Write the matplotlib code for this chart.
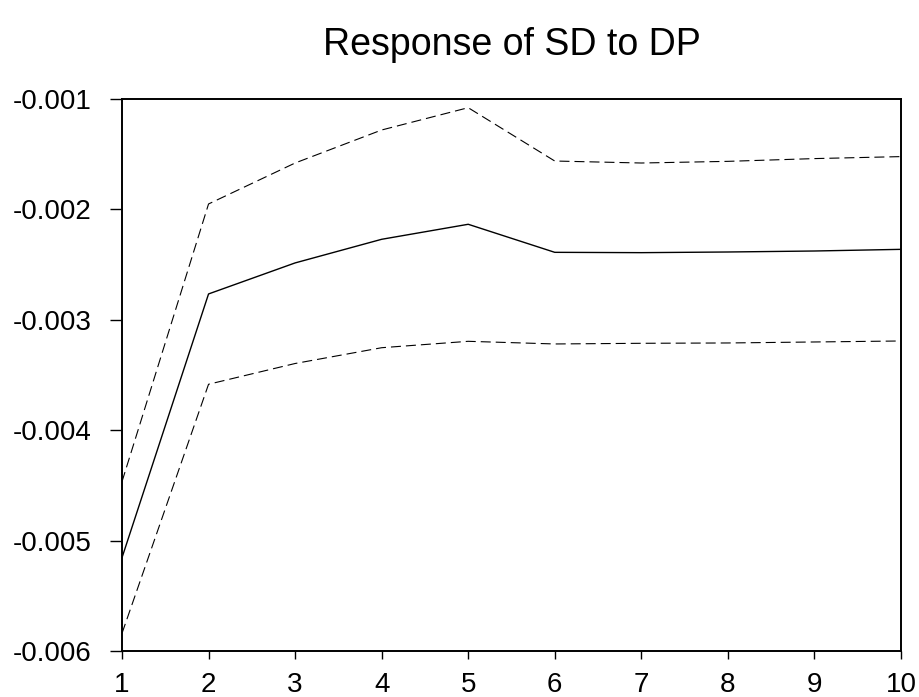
import matplotlib.pyplot as plt

plt.rcParams['font.family'] = ['Liberation Sans', 'DejaVu Sans']

periods = [1, 2, 3, 4, 5, 6, 7, 8, 9, 10]
response = [-0.005155, -0.002766, -0.002485, -0.002271, -0.002135,
            -0.002389, -0.002392, -0.002386, -0.002377, -0.002362]
upper = [-0.004466, -0.001951, -0.001580, -0.001281, -0.001079,
         -0.001562, -0.001580, -0.001565, -0.001540, -0.001522]
lower = [-0.005840, -0.003584, -0.003396, -0.003253, -0.003195,
         -0.003219, -0.003213, -0.003210, -0.003201, -0.003192]
yticks = [-0.006, -0.005, -0.004, -0.003, -0.002, -0.001]
ylabels = ['-0.006', '-0.005', '-0.004', '-0.003', '-0.002', '-0.001']

fig = plt.figure(figsize=(9.2, 6.97), dpi=100)
ax = fig.add_axes([0.1326, 0.066, 0.8467, 0.792])

ax.plot(periods, response, color='black', lw=1.0)
ax.plot(periods, upper, color='black', lw=0.8, dashes=[9, 4.5])
ax.plot(periods, lower, color='black', lw=0.8, dashes=[9, 4.5])

ax.set_xlim(1, 10)
ax.set_ylim(-0.006, -0.001)
ax.set_xticks(periods)
ax.set_yticks(yticks)
ax.set_yticklabels(ylabels)
ax.tick_params(axis='y', direction='out', length=8.6, width=1.0, pad=13, labelsize=20)
ax.tick_params(axis='x', direction='out', length=6, width=1.0, pad=9, labelsize=20)
for s in ax.spines.values():
    s.set_linewidth(1.4)

ax.set_title('Response of SD to DP', fontsize=27, pad=32)

fig.savefig('out.png', dpi=100)
